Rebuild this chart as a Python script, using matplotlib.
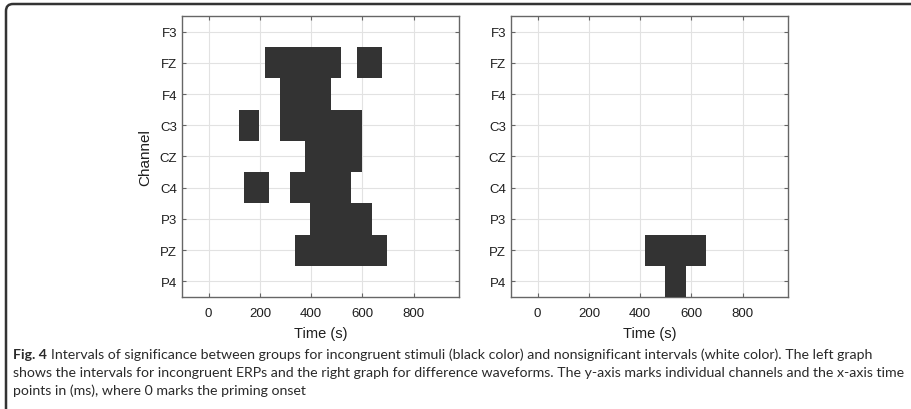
import matplotlib
matplotlib.use('Agg')
import matplotlib.pyplot as plt
from matplotlib.path import Path
from matplotlib.patches import PathPatch

# channels from top to bottom
channels = ['F3', 'FZ', 'F4', 'C3', 'CZ', 'C4', 'P3', 'PZ', 'P4']
xticks = [0, 200, 400, 600, 800]

# significant intervals (ms), one list of (start, end) per channel
incongruent = [
    [],
    [(218, 515), (578, 677)],
    [(277, 477)],
    [(117, 197), (277, 597)],
    [(377, 597)],
    [(137, 237), (317, 557)],
    [(397, 637)],
    [(337, 697)],
    [],
]
difference = [
    [], [], [], [], [], [], [],
    [(417, 657)],
    [(497, 577)],
]

block_color = '#333333'
spine_color = '#666666'
text_color = '#1e1e1e'
ax_font = 'Liberation Sans'
plt.rcParams['font.family'] = ax_font

W, H = 911, 410
fig = plt.figure(figsize=(W / 100, H / 100), dpi=100)

def panel(ax, intervals, ylabel=None):
    for i, iv in enumerate(intervals):
        if iv:
            ax.broken_barh([(a, b - a) for a, b in iv], (i + 0.5, 1),
                           facecolors=block_color, edgecolor='none', zorder=3)
    ax.set_xlim(-104, 977)
    ax.set_ylim(len(channels) + 0.5, 0.5)
    ax.set_yticks(range(1, len(channels) + 1))
    ax.set_yticklabels(channels, family=ax_font, fontsize=9.5, color=text_color)
    ax.set_xticks(xticks)
    ax.set_xticklabels([str(v) for v in xticks], family=ax_font, fontsize=9.5,
                       color=text_color)
    ax.grid(True, color='#e2e2e2', linewidth=0.8, zorder=0)
    ax.set_axisbelow(True)
    ax.tick_params(direction='in', length=3, top=True, right=True,
                   colors=spine_color, labelcolor=text_color)
    ax.tick_params(axis='x', pad=7)
    for s in ax.spines.values():
        s.set_color(spine_color)
        s.set_linewidth(1.0)
    ax.set_xlabel('Time (s)', fontsize=10.5, family=ax_font, color=text_color,
                  labelpad=5)
    if ylabel:
        ax.set_ylabel(ylabel, fontsize=11, family=ax_font, color=text_color,
                      labelpad=5)

ax1 = fig.add_axes([182 / W, 1 - 298 / H, 277 / W, 281 / H])
panel(ax1, incongruent, 'Channel')
ax2 = fig.add_axes([511 / W, 1 - 298 / H, 277 / W, 281 / H])
panel(ax2, difference)

# frame: top and left edges with a rounded top-left corner
fx, fy, r = 6, 5, 7
verts = [(fx, H + 20), (fx, fy + r), (fx, fy), (fx + r, fy), (W + 20, fy)]
codes = [Path.MOVETO, Path.LINETO, Path.CURVE3, Path.CURVE3, Path.LINETO]
verts = [(x / W, 1 - y / H) for x, y in verts]
fig.patches.append(PathPatch(Path(verts, codes), transform=fig.transFigure,
                             fill=False, edgecolor='#333333', linewidth=1.8,
                             clip_on=False))

# caption
cap_font = 'Lato'
cap_color = '#2a2a2a'
lines = [
    'Intervals of significance between groups for incongruent stimuli (black color) and nonsignificant intervals (white color). The left graph',
    'shows the intervals for incongruent ERPs and the right graph for difference waveforms. The y-axis marks individual channels and the x-axis time',
    'points in (ms), where 0 marks the priming onset',
]
x0 = 13
ys = [355, 373, 391]
fs = 9.5
head = fig.text(x0 / W, 1 - ys[0] / H, 'Fig. 4', fontsize=fs, fontweight='bold',
                family=cap_font, va='center', color=cap_color)
body = [fig.text(x0 / W, 1 - y / H, s, fontsize=fs, family=cap_font,
                 va='center', color=cap_color) for y, s in zip(ys, lines)]

def place_first():
    fig.canvas.draw()
    hx = head.get_window_extent().x1
    body[0].set_x((hx + 4) / W)
    fig.canvas.draw()
    return body[0].get_window_extent().x1

# scale caption so the first line ends where the reference's does
right = place_first()
fs = fs * (877 - x0) / (right - x0)
for t in [head] + body:
    t.set_fontsize(fs)
place_first()

fig.savefig('out.png', dpi=100)
